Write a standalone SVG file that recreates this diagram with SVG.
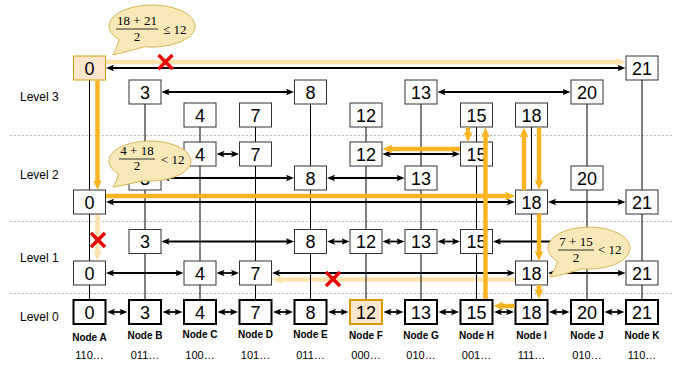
<svg xmlns="http://www.w3.org/2000/svg" width="679" height="366" viewBox="0 0 679 366">
<style>
.n rect{fill:#fff;stroke:#333;stroke-width:1}
.n text{font-family:"Liberation Sans",Arial,sans-serif;font-size:18px;text-anchor:middle;fill:#000}
.b rect{stroke:#000;stroke-width:2}
.hl rect{fill:#FFE6CC;stroke:#D79B00}
.v{stroke:#000;stroke-width:1}
.c{stroke:#000;stroke-width:1.8;fill:none;marker-start:url(#ah);marker-end:url(#ah)}
.c1{stroke:#000;stroke-width:1.8;fill:none;marker-start:url(#ah)}
.o{stroke:#FBB423;stroke-width:4.5;fill:none;marker-end:url(#oh)}
.p{stroke:#FFE2AC;stroke-width:4.5;fill:none;marker-end:url(#ph)}
.x{stroke:#E80000;stroke-width:3.5;stroke-linecap:butt}
.sep{stroke:#BBBBBB;stroke-width:1;stroke-dasharray:2 2}
.lv{font-family:"Liberation Sans",Arial,sans-serif;font-size:12px;fill:#000}
.nl{font-family:"Liberation Sans",Arial,sans-serif;font-size:10px;font-weight:bold;text-anchor:middle;fill:#000}
.bl{font-family:"Liberation Sans",Arial,sans-serif;font-size:11px;text-anchor:middle;fill:#000}
.bub{fill:#F9E9B9;stroke:#D6B656;stroke-width:1}
.m{font-family:"Liberation Serif","DejaVu Serif",serif;font-size:13px;fill:#000}
.fl{stroke:#000;stroke-width:0.8}
</style>
<defs>
<marker id="ah" viewBox="0 0 8 8" refX="5" refY="4" markerWidth="8" markerHeight="8" markerUnits="userSpaceOnUse" orient="auto-start-reverse"><path d="M0,0.8 L8,4 L0,7.2 L1.6,4 z" fill="#000"/></marker>
<marker id="oh" viewBox="0 0 10 10" refX="4" refY="5" markerWidth="10" markerHeight="10" markerUnits="userSpaceOnUse" orient="auto"><path d="M0,0.5 L10,5 L0,9.5 L2,5 z" fill="#FBB423"/></marker>
<marker id="ph" viewBox="0 0 10 10" refX="4" refY="5" markerWidth="10" markerHeight="10" markerUnits="userSpaceOnUse" orient="auto"><path d="M0,0.5 L10,5 L0,9.5 L2,5 z" fill="#FFE2AC"/></marker>
</defs>
<rect x="0" y="0" width="679" height="366" fill="#fff"/>

<g id="separators">
<line class="sep" x1="10" y1="135.5" x2="672" y2="135.5"/>
<line class="sep" x1="10" y1="221.5" x2="672" y2="221.5"/>
<line class="sep" x1="10" y1="293.5" x2="672" y2="293.5"/>
</g>

<g id="level-labels">
<text class="lv" x="20" y="101">Level 3</text>
<text class="lv" x="20" y="179">Level 2</text>
<text class="lv" x="20" y="262">Level 1</text>
<text class="lv" x="20" y="321">Level 0</text>
</g>

<g id="connectors">
<line class="p" x1="106" y1="62" x2="619.5" y2="62"/>
<line class="p" x1="97.5" y1="213.5" x2="97.5" y2="255"/>
<line class="p" x1="515" y1="279.5" x2="278" y2="279.5"/>
<line class="v" x1="89.5" y1="80" x2="89.5" y2="300"/>
<line class="v" x1="145" y1="104" x2="145" y2="300"/>
<line class="v" x1="200" y1="127" x2="200" y2="300"/>
<line class="v" x1="255.5" y1="127" x2="255.5" y2="300"/>
<line class="v" x1="310.5" y1="104" x2="310.5" y2="300"/>
<line class="v" x1="366" y1="127" x2="366" y2="300"/>
<line class="v" x1="421" y1="104" x2="421" y2="300"/>
<line class="v" x1="476.5" y1="127" x2="476.5" y2="300"/>
<line class="v" x1="531.5" y1="127" x2="531.5" y2="300"/>
<line class="v" x1="587" y1="104" x2="587" y2="300"/>
<line class="v" x1="642" y1="80" x2="642" y2="300"/>
<line class="c" x1="109" y1="68" x2="622.5" y2="68"/>
<line class="c" x1="164.5" y1="92" x2="291" y2="92"/>
<line class="c" x1="440.5" y1="92" x2="567.5" y2="92"/>
<line class="c" x1="219.5" y1="154" x2="236" y2="154"/>
<line class="c" x1="385.5" y1="154" x2="457" y2="154"/>
<line class="c" x1="164.5" y1="178" x2="291" y2="178"/>
<line class="c" x1="330" y1="178" x2="401.5" y2="178"/>
<line class="c" x1="109" y1="202" x2="512" y2="202"/>
<line class="c" x1="551" y1="202" x2="622.5" y2="202"/>
<line class="c" x1="164.5" y1="241.5" x2="291" y2="241.5"/>
<line class="c" x1="330" y1="241.5" x2="346.5" y2="241.5"/>
<line class="c" x1="385.5" y1="241.5" x2="401.5" y2="241.5"/>
<line class="c" x1="440.5" y1="241.5" x2="457" y2="241.5"/>
<line class="c1" x1="496" y1="241.5" x2="560" y2="241.5"/>
<line class="c" x1="109" y1="273" x2="180.5" y2="273"/>
<line class="c" x1="219.5" y1="273" x2="236" y2="273"/>
<line class="c" x1="275" y1="273" x2="512" y2="273"/>
<line class="c" x1="551" y1="273" x2="622.5" y2="273"/>
<line class="c" x1="110" y1="312" x2="124.5" y2="312"/>
<line class="c" x1="165.5" y1="312" x2="179.5" y2="312"/>
<line class="c" x1="220.5" y1="312" x2="235" y2="312"/>
<line class="c" x1="276" y1="312" x2="290" y2="312"/>
<line class="c" x1="331" y1="312" x2="345.5" y2="312"/>
<line class="c" x1="386.5" y1="312" x2="400.5" y2="312"/>
<line class="c" x1="441.5" y1="312" x2="456" y2="312"/>
<line class="c" x1="497" y1="312" x2="511" y2="312"/>
<line class="c" x1="552" y1="312" x2="566.5" y2="312"/>
<line class="c" x1="607.5" y1="312" x2="621.5" y2="312"/>
</g>

<g id="nodes">
<g id="L3-A" class="n hl"><rect x="73.5" y="56" width="32" height="24"/><text x="89.5" y="74.5">0</text></g>
<g id="L3-K" class="n"><rect x="626" y="56" width="32" height="24"/><text x="642" y="74.5">21</text></g>
<g id="L3-B" class="n"><rect x="129" y="80" width="32" height="24"/><text x="145" y="98.5">3</text></g>
<g id="L3-E" class="n"><rect x="294.5" y="80" width="32" height="24"/><text x="310.5" y="98.5">8</text></g>
<g id="L3-G" class="n"><rect x="405" y="80" width="32" height="24"/><text x="421" y="98.5">13</text></g>
<g id="L3-J" class="n"><rect x="571" y="80" width="32" height="24"/><text x="587" y="98.5">20</text></g>
<g id="L3-C" class="n"><rect x="184" y="103" width="32" height="24"/><text x="200" y="121.5">4</text></g>
<g id="L3-D" class="n"><rect x="239.5" y="103" width="32" height="24"/><text x="255.5" y="121.5">7</text></g>
<g id="L3-F" class="n"><rect x="350" y="103" width="32" height="24"/><text x="366" y="121.5">12</text></g>
<g id="L3-H" class="n"><rect x="460.5" y="103" width="32" height="24"/><text x="476.5" y="121.5">15</text></g>
<g id="L3-I" class="n"><rect x="515.5" y="103" width="32" height="24"/><text x="531.5" y="121.5">18</text></g>

<g id="L2-C" class="n"><rect x="184" y="142" width="32" height="24"/><text x="200" y="160.5">4</text></g>
<g id="L2-D" class="n"><rect x="239.5" y="142" width="32" height="24"/><text x="255.5" y="160.5">7</text></g>
<g id="L2-F" class="n"><rect x="350" y="142" width="32" height="24"/><text x="366" y="160.5">12</text></g>
<g id="L2-H" class="n"><rect x="460.5" y="142" width="32" height="24"/><text x="476.5" y="160.5">15</text></g>
<g id="L2-B" class="n"><rect x="129" y="166" width="32" height="24"/><text x="145" y="184.5">3</text></g>
<g id="L2-E" class="n"><rect x="294.5" y="166" width="32" height="24"/><text x="310.5" y="184.5">8</text></g>
<g id="L2-G" class="n"><rect x="405" y="166" width="32" height="24"/><text x="421" y="184.5">13</text></g>
<g id="L2-J" class="n"><rect x="571" y="166" width="32" height="24"/><text x="587" y="184.5">20</text></g>
<g id="L2-A" class="n"><rect x="73.5" y="190" width="32" height="24"/><text x="89.5" y="208.5">0</text></g>
<g id="L2-I" class="n"><rect x="515.5" y="190" width="32" height="24"/><text x="531.5" y="208.5">18</text></g>
<g id="L2-K" class="n"><rect x="626" y="190" width="32" height="24"/><text x="642" y="208.5">21</text></g>

<g id="L1-B" class="n"><rect x="129" y="229.5" width="32" height="24"/><text x="145" y="248">3</text></g>
<g id="L1-E" class="n"><rect x="294.5" y="229.5" width="32" height="24"/><text x="310.5" y="248">8</text></g>
<g id="L1-F" class="n"><rect x="350" y="229.5" width="32" height="24"/><text x="366" y="248">12</text></g>
<g id="L1-G" class="n"><rect x="405" y="229.5" width="32" height="24"/><text x="421" y="248">13</text></g>
<g id="L1-H" class="n"><rect x="460.5" y="229.5" width="32" height="24"/><text x="476.5" y="248">15</text></g>
<g id="L1-A" class="n"><rect x="73.5" y="261" width="32" height="24"/><text x="89.5" y="279.5">0</text></g>
<g id="L1-C" class="n"><rect x="184" y="261" width="32" height="24"/><text x="200" y="279.5">4</text></g>
<g id="L1-D" class="n"><rect x="239.5" y="261" width="32" height="24"/><text x="255.5" y="279.5">7</text></g>
<g id="L1-I" class="n"><rect x="515.5" y="261" width="32" height="24"/><text x="531.5" y="279.5">18</text></g>
<g id="L1-K" class="n"><rect x="626" y="261" width="32" height="24"/><text x="642" y="279.5">21</text></g>

<g id="L0-A" class="n b"><rect x="73.5" y="300" width="32" height="24"/><text x="89.5" y="318.5">0</text></g>
<g id="L0-B" class="n b"><rect x="129" y="300" width="32" height="24"/><text x="145" y="318.5">3</text></g>
<g id="L0-C" class="n b"><rect x="184" y="300" width="32" height="24"/><text x="200" y="318.5">4</text></g>
<g id="L0-D" class="n b"><rect x="239.5" y="300" width="32" height="24"/><text x="255.5" y="318.5">7</text></g>
<g id="L0-E" class="n b"><rect x="294.5" y="300" width="32" height="24"/><text x="310.5" y="318.5">8</text></g>
<g id="L0-F" class="n b hl"><rect x="350" y="300" width="32" height="24"/><text x="366" y="318.5">12</text></g>
<g id="L0-G" class="n b"><rect x="405" y="300" width="32" height="24"/><text x="421" y="318.5">13</text></g>
<g id="L0-H" class="n b"><rect x="460.5" y="300" width="32" height="24"/><text x="476.5" y="318.5">15</text></g>
<g id="L0-I" class="n b"><rect x="515.5" y="300" width="32" height="24"/><text x="531.5" y="318.5">18</text></g>
<g id="L0-J" class="n b"><rect x="571" y="300" width="32" height="24"/><text x="587" y="318.5">20</text></g>
<g id="L0-K" class="n b"><rect x="626" y="300" width="32" height="24"/><text x="642" y="318.5">21</text></g>
</g>

<g id="node-labels">
<text class="nl" x="89.5" y="341">Node A</text>
<text class="nl" x="145" y="338.5">Node B</text>
<text class="nl" x="200" y="338">Node C</text>
<text class="nl" x="255.5" y="338">Node D</text>
<text class="nl" x="310.5" y="338">Node E</text>
<text class="nl" x="366" y="338.5">Node F</text>
<text class="nl" x="421" y="338.5">Node G</text>
<text class="nl" x="476.5" y="338.5">Node H</text>
<text class="nl" x="531.5" y="338.5">Node I</text>
<text class="nl" x="587" y="338.5">Node J</text>
<text class="nl" x="642" y="339">Node K</text>
<text class="bl" x="89.5" y="359">110…</text>
<text class="bl" x="145" y="359">011…</text>
<text class="bl" x="200" y="359">100…</text>
<text class="bl" x="255.5" y="359">101…</text>
<text class="bl" x="310.5" y="359">011…</text>
<text class="bl" x="366" y="359">000…</text>
<text class="bl" x="421" y="359">010…</text>
<text class="bl" x="476.5" y="359">001…</text>
<text class="bl" x="531.5" y="359">111…</text>
<text class="bl" x="587" y="359">010…</text>
<text class="bl" x="642" y="359">110…</text>
</g>

<g id="search-path">
<line class="o" x1="97.5" y1="80.5" x2="97.5" y2="184"/>
<line class="o" x1="106" y1="196" x2="509" y2="196"/>
<line class="o" x1="524" y1="190" x2="524" y2="133.5"/>
<line class="o" x1="539" y1="127.5" x2="539" y2="184"/>
<line class="o" x1="539" y1="213.5" x2="539" y2="255"/>
<line class="o" x1="539" y1="285" x2="539" y2="293"/>
<line class="o" x1="514.5" y1="306" x2="499.5" y2="306"/>
<line class="o" x1="485.5" y1="299" x2="485.5" y2="133.5"/>
<line class="o" x1="468" y1="127.5" x2="468" y2="136"/>
<line class="o" x1="460" y1="149" x2="388.5" y2="149"/>
</g>

<g id="rejections">
<path class="x" d="M158.5,55 L172.5,69 M172.5,55 L158.5,69"/>
<path class="x" d="M91,233 L105,247 M105,233 L91,247"/>
<path class="x" d="M326,272 L340,286 M340,272 L326,286"/>
</g>

<g id="bubble-1">
<path class="bub" d="M144.5,46.7 A43,21 0 1 0 119.1,39.5 Q117,48 113,55 Q126,52 144.5,46.7 Z"/>
<text class="m" x="137" y="25" text-anchor="middle">18 + 21</text>
<line class="fl" x1="116" y1="29" x2="158" y2="29"/>
<text class="m" x="137" y="40.5" text-anchor="middle">2</text>
<text class="m" x="163" y="33.5">≤ 12</text>
</g>
<g id="bubble-2">
<path class="bub" d="M142.9,180.7 A41,20 0 1 0 118.6,173.9 Q117,181 113,187 Q126,185 142.9,180.7 Z"/>
<text class="m" x="137" y="155" text-anchor="middle">4 + 18</text>
<line class="fl" x1="119" y1="159" x2="155" y2="159"/>
<text class="m" x="137" y="170" text-anchor="middle">2</text>
<text class="m" x="161" y="164">&lt; 12</text>
</g>
<g id="bubble-3">
<path class="bub" d="M581.9,268.7 A41,21 0 1 0 557.6,261.5 Q555,270 550,277 Q564,275 581.9,268.7 Z"/>
<text class="m" x="576" y="246" text-anchor="middle">7 + 15</text>
<line class="fl" x1="558" y1="250" x2="594" y2="250"/>
<text class="m" x="576" y="261.5" text-anchor="middle">2</text>
<text class="m" x="598" y="254">&lt; 12</text>
</g>
</svg>
